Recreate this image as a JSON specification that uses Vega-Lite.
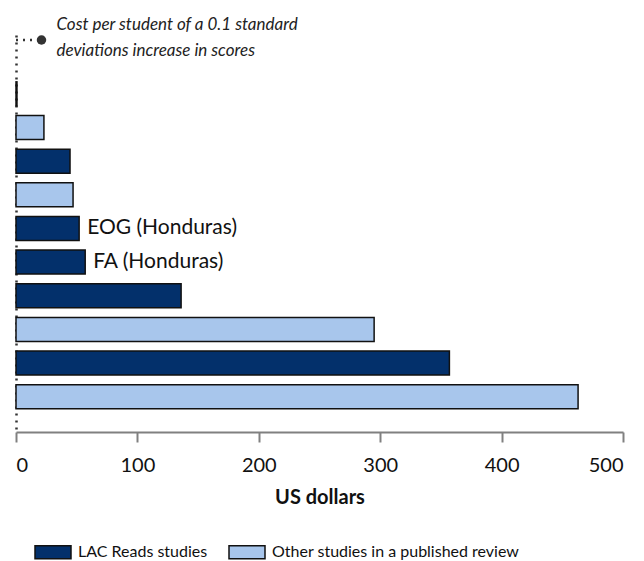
{
  "$schema": "https://vega.github.io/schema/vega-lite/v6.json",
  "width": 607,
  "height": 397,
  "autosize": {"type": "none"},
  "padding": {"left": 16, "top": 35, "right": 21, "bottom": 129},
  "config": {
    "font": "Lato",
    "view": {"stroke": null}
  },
  "datasets": {
    "studies": [
      {"rank": 1, "cost": 0.8, "group": "LAC Reads studies", "label": ""},
      {"rank": 2, "cost": 23, "group": "Other studies in a published review", "label": ""},
      {"rank": 3, "cost": 44.5, "group": "LAC Reads studies", "label": ""},
      {"rank": 4, "cost": 47, "group": "Other studies in a published review", "label": ""},
      {"rank": 5, "cost": 52, "group": "LAC Reads studies", "label": "EOG (Honduras)"},
      {"rank": 6, "cost": 57, "group": "LAC Reads studies", "label": "FA (Honduras)"},
      {"rank": 7, "cost": 136, "group": "LAC Reads studies", "label": ""},
      {"rank": 8, "cost": 295, "group": "Other studies in a published review", "label": ""},
      {"rank": 9, "cost": 357, "group": "LAC Reads studies", "label": ""},
      {"rank": 10, "cost": 463, "group": "Other studies in a published review", "label": ""}
    ],
    "note": [
      {"start": 0, "x": 21, "rank": -0.6, "text": ["Cost per student of a 0.1 standard", "deviations increase in scores"]}
    ]
  },
  "layer": [
    {
      "data": {"name": "studies"},
      "mark": {"type": "bar", "size": 24, "stroke": "#111111", "strokeWidth": 1.5, "orient": "horizontal"},
      "encoding": {
        "y": {
          "field": "rank", "type": "quantitative",
          "scale": {"domain": [-0.6, 10.9], "reverse": true, "nice": false, "zero": false},
          "axis": {"labels": false, "ticks": false, "grid": false, "title": null, "domainColor": "#333333", "domainWidth": 2.5, "domainDash": [2, 5]}
        },
        "x": {
          "field": "cost", "type": "quantitative",
          "scale": {"domain": [0, 500], "nice": false},
          "axis": {
            "values": [0, 100, 200, 300, 400, 500],
            "grid": false,
            "title": "US dollars",
            "titleFontSize": 20, "titleFontWeight": "bold", "titleColor": "#111111", "titlePadding": 12,
            "labelFontSize": 20, "labelColor": "#111111", "labelPadding": 13, "labelFont": "Lato",
            "domainColor": "#808080", "domainWidth": 2,
            "tickColor": "#808080", "tickWidth": 2, "tickSize": 10
          }
        },
        "fill": {
          "field": "group", "type": "nominal",
          "scale": {"domain": ["LAC Reads studies", "Other studies in a published review"], "range": ["#03306b", "#a8c6ec"]},
          "legend": {
            "title": null,
            "orient": "none",
            "direction": "horizontal",
            "legendX": 18,
            "legendY": 498,
            "symbolType": "M-1,-0.36H1V0.36H-1Z",
            "symbolSize": 1296,
            "symbolStrokeColor": "#111111",
            "symbolStrokeWidth": 1.5,
            "labelFontSize": 16,
            "labelColor": "#111111",
            "labelOffset": 6,
            "labelLimit": 400,
            "columnPadding": 18
          }
        }
      }
    },
    {
      "data": {"name": "studies"},
      "mark": {"type": "text", "align": "left", "baseline": "middle", "dx": 8, "fontSize": 21, "color": "#111111"},
      "encoding": {
        "y": {"field": "rank", "type": "quantitative"},
        "x": {"field": "cost", "type": "quantitative"},
        "text": {"field": "label"}
      }
    },
    {
      "data": {"name": "note"},
      "mark": {"type": "rule", "color": "#333333", "strokeWidth": 2.5, "strokeDash": [2, 5]},
      "encoding": {
        "y": {"field": "rank", "type": "quantitative"},
        "x": {"field": "start", "type": "quantitative"},
        "x2": {"field": "x"}
      }
    },
    {
      "data": {"name": "note"},
      "mark": {"type": "point", "filled": true, "size": 90, "color": "#333333", "opacity": 1},
      "encoding": {
        "y": {"field": "rank", "type": "quantitative"},
        "x": {"field": "x", "type": "quantitative"}
      }
    },
    {
      "data": {"name": "note"},
      "mark": {"type": "text", "align": "left", "baseline": "middle", "dx": 15, "dy": -15, "fontSize": 17, "fontStyle": "italic", "lineHeight": 26, "color": "#222222"},
      "encoding": {
        "y": {"field": "rank", "type": "quantitative"},
        "x": {"field": "x", "type": "quantitative"},
        "text": {"field": "text"}
      }
    }
  ]
}
